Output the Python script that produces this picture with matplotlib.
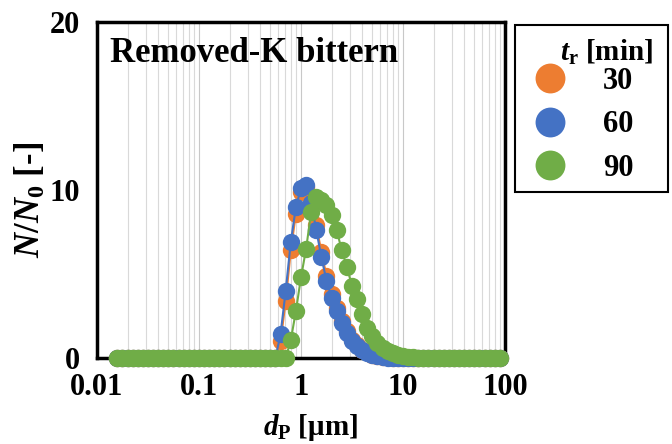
import matplotlib
matplotlib.use("Agg")
import matplotlib.pyplot as plt
from matplotlib.lines import Line2D
from matplotlib.patches import Rectangle

plt.rcParams['font.family'] = ['Liberation Serif', 'DejaVu Serif']
plt.rcParams['font.weight'] = 'bold'
plt.rcParams['axes.labelweight'] = 'bold'
plt.rcParams['mathtext.fontset'] = 'custom'
plt.rcParams['mathtext.rm'] = 'Liberation Serif:bold'
plt.rcParams['mathtext.bf'] = 'Liberation Serif:bold'
plt.rcParams['mathtext.it'] = 'Liberation Serif:bold:italic'
plt.rcParams['mathtext.bfit'] = 'Liberation Serif:bold:italic'

# particle size bins [um]
d_p = [0.01585, 0.01778, 0.01995, 0.02239, 0.02512, 0.02818, 0.03162, 0.03548,
       0.03981, 0.04467, 0.05012, 0.05623, 0.06310, 0.07079, 0.07943, 0.08913,
       0.1000, 0.1122, 0.1259, 0.1413, 0.1585, 0.1778, 0.1995, 0.2239, 0.2512, 0.2818,
       0.3162, 0.3548, 0.3981, 0.4467, 0.5012, 0.5623, 0.6310, 0.7079, 0.7943, 0.8913,
       1.000, 1.122, 1.259, 1.413, 1.585, 1.778, 1.995, 2.239, 2.512, 2.818,
       3.162, 3.548, 3.981, 4.467, 5.012, 5.623, 6.310, 7.079, 7.943, 8.913,
       10.00, 11.22, 12.59, 14.13, 15.85, 17.78, 19.95, 22.39, 25.12, 28.18,
       31.62, 35.48, 39.81, 44.67, 50.12, 56.23, 63.10, 70.79, 79.43, 89.13]

n_30 = [0, 0, 0, 0, 0, 0, 0, 0, 0, 0, 0, 0, 0, 0, 0, 0,
        0, 0, 0, 0, 0, 0, 0, 0, 0, 0, 0, 0, 0, 0, 0, 0, 1.0, 3.4, 6.4, 8.6,
        9.9, 10.2, 9.4, 7.9, 6.3, 4.9, 3.8, 3.0, 2.2, 1.6, 1.1, 0.75, 0.5, 0.33, 0.2, 0.12, 0.06, 0.03, 0, 0,
        0, 0, 0, 0, 0, 0, 0, 0, 0, 0, 0, 0, 0, 0, 0, 0, 0, 0, 0, 0]

n_60 = [0, 0, 0, 0, 0, 0, 0, 0, 0, 0, 0, 0, 0, 0, 0, 0,
        0, 0, 0, 0, 0, 0, 0, 0, 0, 0, 0, 0, 0, 0, 0, 0, 1.45, 4.0, 6.9, 9.0,
        10.1, 10.3, 9.2, 7.6, 6.0, 4.6, 3.6, 2.8, 2.1, 1.5, 1.0, 0.7, 0.45, 0.3, 0.18, 0.1, 0.05, 0, 0, 0,
        0, 0, 0, 0, 0, 0, 0, 0, 0, 0, 0, 0, 0, 0, 0, 0, 0, 0, 0, 0]

n_90 = [0, 0, 0, 0, 0, 0, 0, 0, 0, 0, 0, 0, 0, 0, 0, 0,
        0, 0, 0, 0, 0, 0, 0, 0, 0, 0, 0, 0, 0, 0, 0, 0, 0, 0, 1.06, 2.8,
        4.8, 6.5, 8.7, 9.6, 9.4, 9.1, 8.5, 7.6, 6.4, 5.4, 4.3, 3.5, 2.6, 1.8, 1.3, 0.9, 0.6, 0.4, 0.27, 0.17,
        0.1, 0.06, 0.03, 0, 0, 0, 0, 0, 0, 0, 0, 0, 0, 0, 0, 0, 0, 0, 0, 0]

series_labels = ['30', '60', '90']
series_colors = ['#ED7D31', '#4472C4', '#70AD47']
x_ticks = [0.01, 0.1, 1, 10, 100]
x_ticklabels = ['0.01', '0.1', '1', '10', '100']
y_ticks = [0, 10, 20]

W, H = 672, 444
fig = plt.figure(figsize=(W/100, H/100), dpi=100)
ax = fig.add_axes([97/W, 1-358/H, 408/W, 336/H])

for ys, c in zip([n_30, n_60, n_90], series_colors):
    ax.plot(d_p, ys, color=c, lw=1.5, marker='o', markersize=12.5,
            markeredgewidth=0, zorder=3, clip_on=False)

ax.set_xscale('log')
ax.set_xlim(0.01, 100)
ax.set_ylim(0, 20)
ax.set_xticks(x_ticks)
ax.set_xticklabels(x_ticklabels)
ax.set_yticks(y_ticks)
ax.xaxis.grid(True, which='minor', color='#d9d9d9', lw=0.8)
ax.xaxis.grid(True, which='major', color='#c8c8c8', lw=0.8)
ax.yaxis.grid(False)
ax.set_axisbelow(True)
ax.tick_params(axis='both', which='both', length=0, labelsize=22)
ax.tick_params(axis='x', pad=11)
ax.tick_params(axis='y', pad=12)
for s in ax.spines.values():
    s.set_linewidth(2.5)
    s.set_color('black')

ax.set_xlabel(r'$\mathit{d}_\mathrm{P}$ [μm]', fontsize=21, fontweight='bold')
ax.xaxis.set_label_coords((311-97)/408, (358-412)/336)
ax.set_ylabel(r'$\mathit{N}/\mathit{N}_\mathrm{0}$ [-]', fontsize=25, fontweight='bold')
ax.yaxis.set_label_coords((48-97)/408, (358-200)/336)

ax.text((110-97)/408, (358-62)/336, 'Removed-K bittern', transform=ax.transAxes,
        fontsize=25, fontweight='bold', va='baseline', ha='left')

# legend
fig.patches.append(Rectangle((515/W, 1-192/H), 153/W, 167/H, transform=fig.transFigure,
                             fill=False, lw=1.5, ec='black'))
fig.text(560/W, 1-52/H, r'$\mathit{t}_\mathrm{r}$ [min]', ha='left', va='center',
         fontsize=21, fontweight='bold')
handles = [Line2D([], [], ls='none', marker='o', markersize=21.5, color=c,
                  markeredgewidth=0) for c in series_colors]
fs = 22 * 100 / 72
leg = fig.legend(handles, series_labels, loc='upper left',
                 bbox_to_anchor=((550 - fs/2)/W, 1-67/H), bbox_transform=fig.transFigure,
                 fontsize=22, frameon=False, borderpad=0, borderaxespad=0,
                 handlelength=1.0, handletextpad=(603 - 550 - fs/2)/fs,
                 labelspacing=0.47)

fig.savefig('out.png', dpi=100)
